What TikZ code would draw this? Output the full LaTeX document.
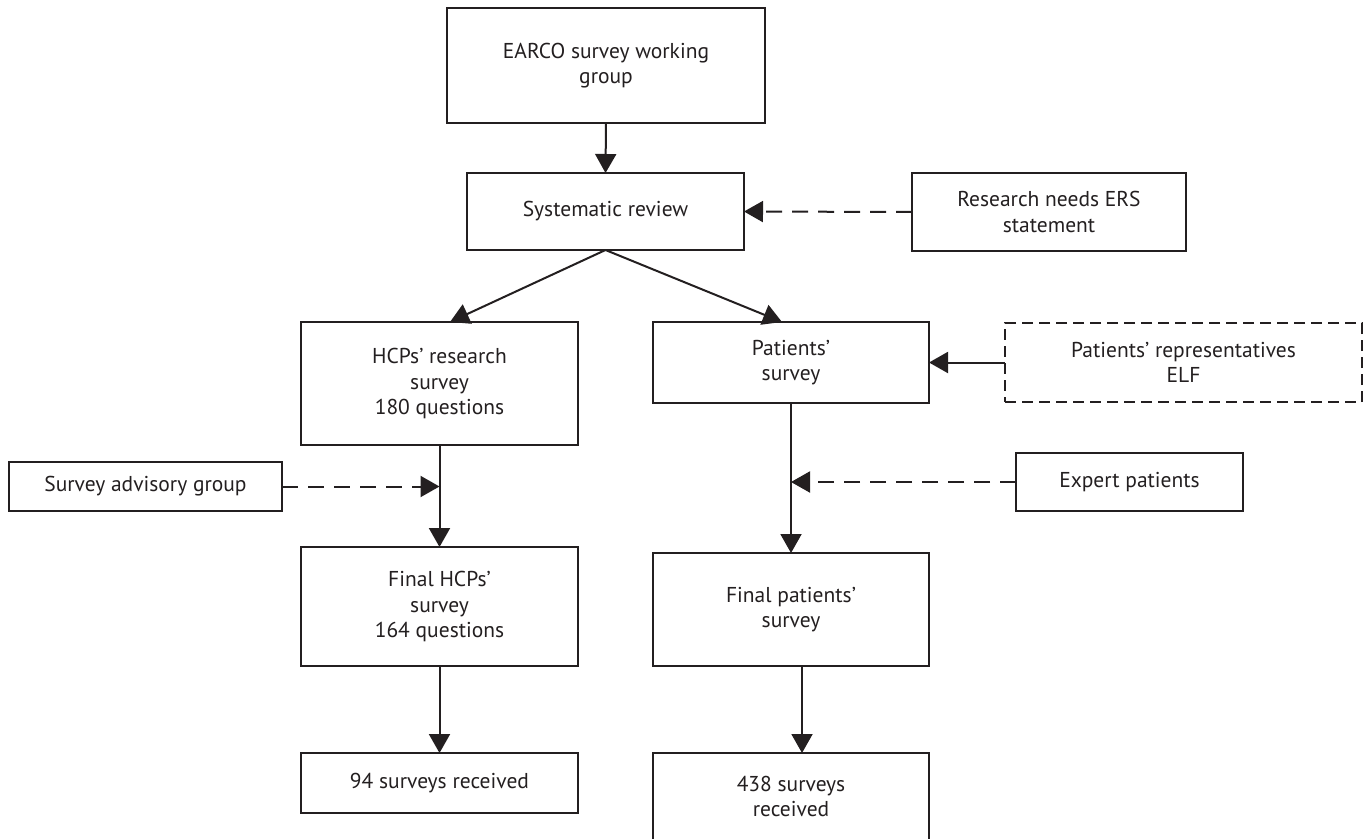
\documentclass[tikz,border=0pt]{standalone}
\usepackage{fontspec}
\setmainfont{PT Sans}
\usetikzlibrary{arrows.meta}
\definecolor{ink}{HTML}{231F20}
\tikzset{
  box/.style={draw=ink, line width=1.6pt, rectangle, inner sep=0pt, outer sep=0pt,
    align=center, text=ink, font=\fontsize{21.5}{25.5}\selectfont},
  dbox/.style={box, dash pattern=on 11pt off 6pt},
  arr/.style={draw=ink, line width=2pt, -{Triangle[length=19pt,width=21pt]}},
  darr/.style={arr, dash pattern=on 16pt off 10pt},
}
\begin{document}
\begin{tikzpicture}[x=1pt,y=-1pt]
\useasboundingbox (0,0) rectangle (1368,838);
\clip (0,0) rectangle (1368,838);
\node[box, minimum width=318pt, minimum height=115pt] (earco) at (606,65.5) {EARCO survey working\\group};
\node[box, minimum width=277pt, minimum height=77pt] (sys) at (605.5,211.5) {Systematic review};
\node[box, minimum width=274pt, minimum height=78pt] (res) at (1049,212) {Research needs ERS\\statement};
\node[box, minimum width=277pt, minimum height=123pt] (hcp) at (439.5,383.5) {HCPs’ research\\survey\\180 questions};
\node[box, minimum width=276pt, minimum height=81pt] (pat) at (791,362.5) {Patients’\\survey};
\node[dbox, minimum width=357pt, minimum height=79pt] (rep) at (1183.5,362.5) {Patients’ representatives\\ELF};
\node[box, minimum width=273pt, minimum height=49pt] (adv) at (145.5,486.5) {Survey advisory group};
\node[box, minimum width=227pt, minimum height=58pt] (exp) at (1129.5,482) {Expert patients};
\node[box, minimum width=277pt, minimum height=119pt] (fhcp) at (439.5,606.5) {Final HCPs’\\survey\\164 questions};
\node[box, minimum width=276pt, minimum height=113pt] (fpat) at (791,609.5) {Final patients’\\survey};
\node[box, minimum width=277pt, minimum height=60pt] (r94) at (439.5,783) {94 surveys received};
\node[box, minimum width=276pt, minimum height=87pt] (r438) at (791,796.5) {438 surveys\\received};

\draw[arr] (earco.south) -- (sys.north);
\draw[darr] (res.west) -- (sys.east);
\draw[arr] (sys.south) -- ([xshift=10.5pt]hcp.north);
\draw[arr] (sys.south) -- ([xshift=-9pt]pat.north);
\draw[arr] (rep.west) -- (pat.east);
\draw[arr] (hcp.south) -- (fhcp.north);
\draw[darr] (adv.east) -- (adv.east -| hcp.south);
\draw[arr] (pat.south) -- (fpat.north);
\draw[darr] (exp.west) -- (exp.west -| pat.south);
\draw[arr] (fhcp.south) -- (r94.north);
\draw[arr] ([xshift=11pt]fpat.south) -- ([xshift=11pt]fpat.south |- r438.north);
\end{tikzpicture}
\end{document}
